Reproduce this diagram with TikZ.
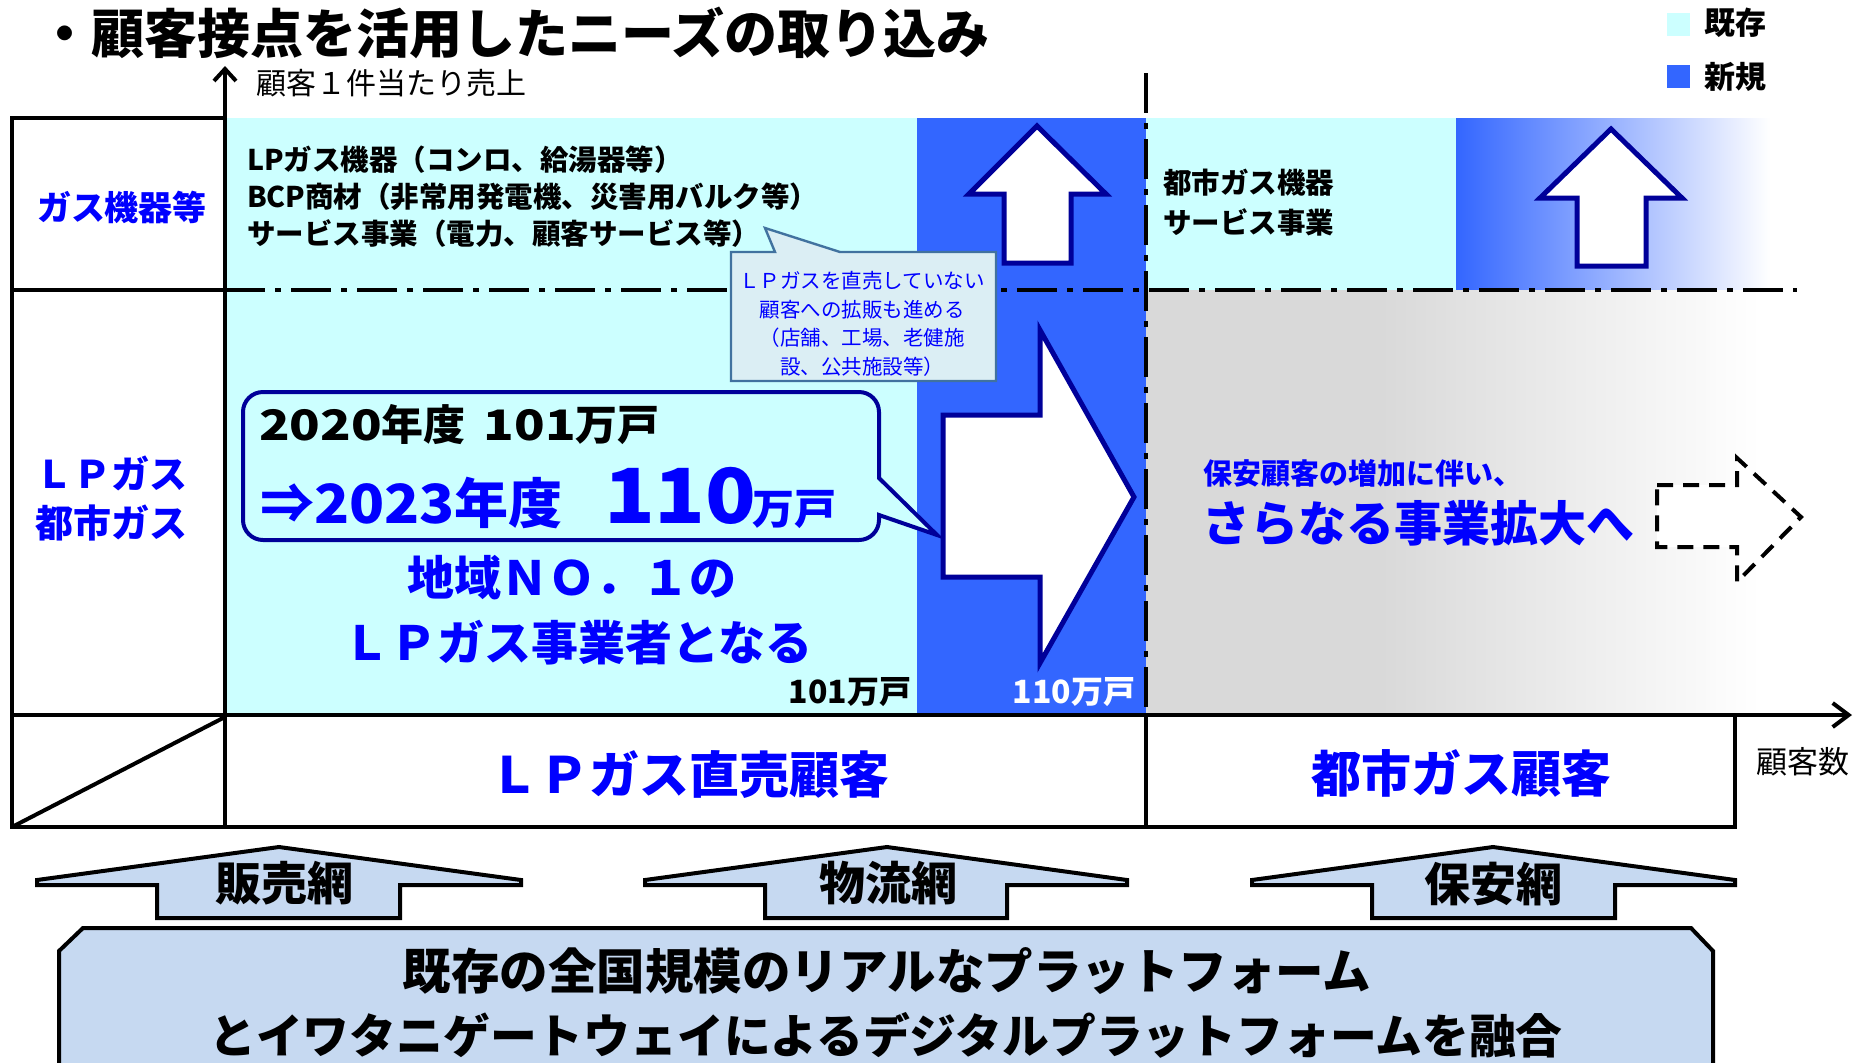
\documentclass[tikz,border=0pt]{standalone}
\usepackage{fontspec}
\usepackage{graphicx}
\setmainfont{Noto Sans CJK JP}
\usetikzlibrary{arrows.meta}
\definecolor{cyanbg}{HTML}{CCFFFF}
\definecolor{newblue}{HTML}{3366FF}
\definecolor{navy}{HTML}{000099}
\definecolor{txtblue}{HTML}{0000FF}
\definecolor{calloutfill}{HTML}{DBEEF4}
\definecolor{calloutline}{HTML}{41729F}
\definecolor{platform}{HTML}{C6D9F1}
\definecolor{grayA}{HTML}{D9D9D9}
\newcommand{\wdig}[2]{\scalebox{#1}[1]{#2}}
\tikzset{
  tline/.style={line width=2pt, line cap=rect},
  dashdot/.style={line width=2pt, dash pattern=on 20pt off 5pt on 3pt off 5pt},
  blockarrow/.style={draw=navy, line width=2.5pt, fill=white, line join=miter},
  netarrow/.style={draw=black, line width=2pt, fill=platform, line join=miter},
  txt/.style={inner sep=0pt, outer sep=0pt},
}
\begin{document}
\begin{tikzpicture}[x=0.5pt,y=-0.5pt]
\useasboundingbox (0,0) rectangle (1854,1062);
\clip (0,0) rectangle (1854,1062);
% ---- background fills
\fill[cyanbg] (225,118) rectangle (917,715);
\fill[newblue] (917,118) rectangle (1146,715);
\fill[cyanbg] (1146,118) rectangle (1456,290);
\shade[left color=newblue, right color=white] (1456,118) rectangle (1770,290);
\fill[grayA] (1146,290) rectangle (1380,715);
\shade[left color=grayA, right color=white] (1380,290) rectangle (1760,715);
% ---- legend
\fill[cyanbg] (1667,13) rectangle (1690,36);
\fill[newblue] (1667,65) rectangle (1690,88);
\node[txt, anchor=west, font=\bfseries\fontsize{15.5pt}{18pt}\selectfont] (lgold) at (1704,23) {既存};
\node[txt, anchor=west, font=\bfseries\fontsize{15.5pt}{18pt}\selectfont] (lgnew) at (1704,77) {新規};
% ---- dash-dot lines
\draw[dashdot] (225,290) -- (1797,290);
\draw[dashdot] (1146,73) -- (1146,715);
% ---- table lines
\draw[tline] (12,118) -- (225,118);
\draw[tline] (12,118) -- (12,827) -- (1735,827) -- (1735,715);
\draw[tline] (12,290) -- (225,290);
\draw[tline] (1146,715) -- (1146,827);
\draw[line width=2pt] (12,827) -- (225,717);
\draw[line width=2pt, -{Straight Barb[length=6pt,width=11pt,line width=2pt]}] (225,827) -- (225,66);
\draw[line width=2pt, -{Straight Barb[length=8pt,width=12pt,line width=2pt]}] (12,715) -- (1852,715);
% ---- block arrows
\draw[blockarrow] (1037,126) -- (1106,194) -- (1071,194) -- (1071,263) -- (1004,263) -- (1004,194) -- (969,194) -- cycle;
\draw[blockarrow] (1611,129) -- (1682,198) -- (1646,198) -- (1646,266) -- (1577,266) -- (1577,198) -- (1540,198) -- cycle;
\draw[blockarrow] (943,415) -- (1040,415) -- (1040,330) -- (1134,497) -- (1040,663) -- (1040,577) -- (943,577) -- cycle;
\draw[line width=2pt, dash pattern=on 8pt off 5pt, fill=white] (1657,485) -- (1737,485) -- (1737,458) -- (1801,517) -- (1737,582) -- (1737,547) -- (1657,547) -- cycle;
% ---- callout
\draw[fill=calloutfill, draw=calloutline, line width=1.2pt] (731,252) -- (775,252) -- (765,228) -- (840,252) -- (996,252) -- (996,381) -- (731,381) -- cycle;
\node[txt, align=center, text=txtblue, font=\fontsize{10.25pt}{14.25pt}\selectfont] (callout) at (862,324) {ＬＰガスを直売していない\\顧客への拡販も進める\\（店舗、工場、老健施\\設、公共施設等）};
% ---- speech bubble
\draw[draw=navy, line width=2pt, fill=cyanbg] (263,392) -- (859,392) arc[start angle=90,end angle=0,radius=10pt] -- (879,478) -- (937,535) -- (879,515) -- (879,520) arc[start angle=0,end angle=-90,radius=10pt] -- (263,540) arc[start angle=-90,end angle=-180,radius=10pt] -- (243,412) arc[start angle=180,end angle=90,radius=10pt] -- cycle;
\node[txt, anchor=base west, font=\bfseries\fontsize{21pt}{24pt}\selectfont] (y2020) at (259,440) {\wdig{1.2}{2020}年度\hspace{9pt}\wdig{1.2}{101}万戸};
\node[txt, anchor=base west, text=txtblue, font=\bfseries\fontsize{27pt}{30pt}\selectfont] (y2023) at (260,523) {⇒\wdig{1.07}{2023}年度};
\node[txt, anchor=base west, text=txtblue, font=\bfseries\fontsize{38pt}{40pt}\selectfont] (n110) at (604,523) {\wdig{1.1}{110}};
\node[txt, anchor=base west, text=txtblue, font=\bfseries\fontsize{21pt}{24pt}\selectfont] (n110u) at (752,524) {万戸};
% ---- top band texts
\node[txt, anchor=west, font=\bfseries\fontsize{14.25pt}{16pt}\selectfont] (t1) at (247,160) {LPガス機器（コンロ、給湯器等）};
\node[txt, anchor=west, font=\bfseries\fontsize{14.25pt}{16pt}\selectfont] (t2) at (247,197) {BCP商材（非常用発電機、災害用バルク等）};
\node[txt, anchor=west, font=\bfseries\fontsize{14.25pt}{16pt}\selectfont] (t3) at (247,234) {サービス事業（電力、顧客サービス等）};
\node[txt, anchor=west, font=\bfseries\fontsize{14.25pt}{16pt}\selectfont] (t4) at (1163,183) {都市ガス機器};
\node[txt, anchor=west, font=\bfseries\fontsize{14.25pt}{16pt}\selectfont] (t5) at (1163,222) {サービス事業};
% ---- left column
\node[txt, text=txtblue, font=\bfseries\fontsize{17pt}{20pt}\selectfont] (lc1) at (122,207) {ガス機器等};
\node[txt, anchor=west, text=txtblue, font=\bfseries\fontsize{19pt}{22pt}\selectfont] (lc2) at (35,473) {ＬＰガス};
\node[txt, anchor=west, text=txtblue, font=\bfseries\fontsize{19pt}{22pt}\selectfont] (lc3) at (35,523) {都市ガス};
% ---- middle texts
\node[txt, text=txtblue, font=\bfseries\fontsize{23.5pt}{26pt}\selectfont] (no1) at (572,578) {地域ＮＯ．１の};
\node[txt, text=txtblue, font=\bfseries\fontsize{23.5pt}{26pt}\selectfont] (lpj) at (578,643) {ＬＰガス事業者となる};
\node[txt, anchor=base east, font=\bfseries\fontsize{16pt}{18pt}\selectfont] (c101) at (911,703) {101万戸};
\node[txt, anchor=base east, text=white, font=\bfseries\fontsize{16pt}{18pt}\selectfont] (c110) at (1135,703) {110万戸};
\node[txt, anchor=west, text=txtblue, font=\bfseries\fontsize{14.5pt}{16pt}\selectfont] (r1) at (1203,473) {保安顧客の増加に伴い、};
\node[txt, anchor=west, text=txtblue, font=\bfseries\fontsize{24pt}{26pt}\selectfont] (r2) at (1202,523) {さらなる事業拡大へ};
% ---- bottom row
\node[txt, text=txtblue, font=\bfseries\fontsize{25pt}{28pt}\selectfont] (b1) at (689,775) {ＬＰガス直売顧客};
\node[txt, text=txtblue, font=\bfseries\fontsize{25pt}{28pt}\selectfont] (b2) at (1461,773) {都市ガス顧客};
\node[txt, font=\fontsize{15.5pt}{18pt}\selectfont] (xlabel) at (1803,762) {顧客数};
% ---- network arrows
\draw[netarrow] (279,847) -- (521,880) -- (521,885) -- (400,885) -- (400,918) -- (157,918) -- (157,885) -- (37,885) -- (37,880) -- cycle;
\draw[netarrow] (887,847) -- (1127,880) -- (1127,885) -- (1007,885) -- (1007,918) -- (765,918) -- (765,885) -- (645,885) -- (645,880) -- cycle;
\draw[netarrow] (1493,847) -- (1735,880) -- (1735,885) -- (1615,885) -- (1615,918) -- (1372,918) -- (1372,885) -- (1252,885) -- (1252,880) -- cycle;
\node[txt, font=\bfseries\fontsize{23pt}{26pt}\selectfont] (net1) at (284,883) {販売網};
\node[txt, font=\bfseries\fontsize{23pt}{26pt}\selectfont] (net2) at (888,883) {物流網};
\node[txt, font=\bfseries\fontsize{23pt}{26pt}\selectfont] (net3) at (1493,884) {保安網};
% ---- platform
\draw[line width=2pt, fill=platform, line join=miter] (59,1075) -- (59,951) -- (83,928) -- (1691,928) -- (1713,951) -- (1713,1075);
\node[txt, font=\bfseries\fontsize{24.25pt}{26pt}\selectfont] (p1) at (887,971) {既存の全国規模のリアルなプラットフォーム};
\node[txt, font=\bfseries\fontsize{23.4pt}{26pt}\selectfont] (p2) at (886,1035) {とイワタニゲートウェイによるデジタルプラットフォームを融合};
% ---- title
\node[txt, anchor=east, font=\bfseries\fontsize{26.5pt}{30pt}\selectfont] (title) at (990,33) {・顧客接点を活用したニーズの取り込み};
\node[txt, anchor=west, font=\fontsize{15pt}{18pt}\selectfont] (ylabel) at (256,83) {顧客１件当たり売上};
\end{tikzpicture}
\end{document}
